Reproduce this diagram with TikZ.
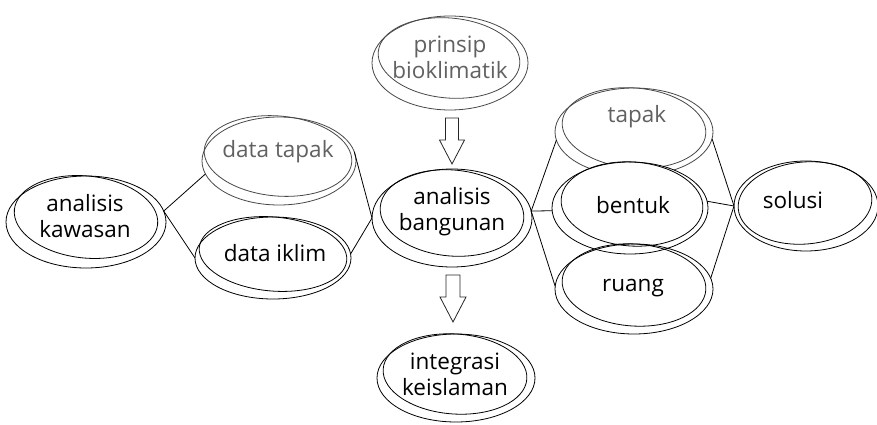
\documentclass[tikz,border=0pt]{standalone}
\usepackage{fontspec}
\setmainfont{Open Sans}
\usetikzlibrary{calc,shapes.geometric}

\begin{document}
\begin{tikzpicture}[x=1pt,y=1pt,
  bub/.style={ellipse, draw=black, fill=white, line width=0.8pt, inner sep=0pt, outer sep=0pt},
  bubline/.style={draw=black, line width=0.8pt},
  soft/.style={draw=black!72},
  txt/.style={align=center, inner sep=0pt, font=\fontsize{22.5}{26}\selectfont, text=black},
  softtxt/.style={txt, text=black!62},
  link/.style={draw=black, line width=0.8pt},
  blockarrow/.style={draw=black!85, line width=0.8pt, fill=white, line join=miter}
]
\useasboundingbox[fill=white] (0,0) rectangle (877,424);

% analisis kawasan
\node[bub, minimum width=160, minimum height=92,
  label={[txt, shift={(-1,6)}]center:{analisis\\kawasan}}] (kaw) at (86,202) {};
\draw[bubline, rotate around={-6:(86,207)}] (86,207) ellipse [x radius=72, y radius=41];

% data tapak
\node[bub, soft, minimum width=154, minimum height=88,
  label={[softtxt, shift={(-1,9)}]center:{data tapak}}] (dtp) at (279,263) {};
\draw[bubline, soft, rotate around={-5:(278,268)}] (278,268) ellipse [x radius=74, y radius=40];

% data iklim
\node[bub, minimum width=156, minimum height=82,
  label={[txt, shift={(2,5)}]center:{data iklim}}] (dik) at (273,166) {};
\draw[bubline, rotate around={-5:(273,170)}] (273,170) ellipse [x radius=74, y radius=37];

% prinsip bioklimatik
\node[bub, soft, minimum width=156, minimum height=94,
  label={[softtxt, shift={(0,6)}]center:{prinsip\\bioklimatik}}] (pri) at (450,361) {};
\draw[bubline, soft, rotate around={-5:(449,366)}] (449,366) ellipse [x radius=71, y radius=40];

% analisis bangunan
\node[bub, minimum width=160, minimum height=98,
  label={[txt, shift={(0,6)}]center:{analisis\\bangunan}}] (ban) at (452,206) {};
\draw[bubline, rotate around={-5:(452,211)}] (452,211) ellipse [x radius=72, y radius=43];

% integrasi keislaman
\node[bub, minimum width=158, minimum height=88,
  label={[txt, shift={(-1,4)}]center:{integrasi\\keislaman}}] (isl) at (456,46) {};
\draw[bubline, rotate around={-4:(455,50)}] (455,50) ellipse [x radius=72, y radius=40];

% tapak
\node[bub, soft, minimum width=158, minimum height=88,
  label={[softtxt, shift={(3,15)}]center:{tapak}}] (tpk) at (634,292) {};
\draw[bubline, soft, rotate around={-5:(634,296)}] (634,296) ellipse [x radius=72, y radius=40];

% bentuk
\node[bub, minimum width=156, minimum height=92,
  label={[txt, shift={(3,3)}]center:{bentuk}}] (ben) at (630,216) {};
\draw[bubline, rotate around={-4:(632,220)}] (632,220) ellipse [x radius=71, y radius=42];

% ruang
\node[bub, fill=none, minimum width=158, minimum height=90,
  label={[txt, shift={(-1,1)}]center:{ruang}}] (rua) at (634,135) {};
\draw[bubline, rotate around={-4:(634,139)}] (634,139) ellipse [x radius=72, y radius=41];

% solusi
\node[bub, minimum width=144, minimum height=90,
  label={[txt, shift={(-13,6)}]center:{solusi}}] (sol) at (806,218) {};
\draw[bubline, rotate around={5:(805,221)}] (805,221) ellipse [x radius=67, y radius=41];

% connectors
\draw[link] (kaw.8) -- (dtp.190);
\draw[link] (kaw.8) -- (dik.west);
\draw[link] (dtp.7) -- (ban.west);
\draw[link] (dik.3) -- (ban.west);
\draw[link] (ban.5) -- (tpk.186);
\draw[link] (ban.5) -- (ben.182);
\draw[link] (ban.5) -- (rua.178);
\draw[link] (tpk.355) -- (sol.west);
\draw[link] (ben.5) -- (sol.west);
\draw[link] (rua.8) -- (sol.west);

% block arrows
\coordinate (a1) at ([xshift=2,yshift=-8]pri.south);
\draw[blockarrow] (a1) ++(-6.5,0) -- ++(13,0) -- ++(0,-22) -- ++(6,0)
  -- ++(-12.5,-24) -- ++(-12.5,24) -- ++(6,0) -- cycle;
\coordinate (a2) at ([xshift=1,yshift=-8]ban.south);
\draw[blockarrow] (a2) ++(-7,0) -- ++(14,0) -- ++(0,-22) -- ++(6,0)
  -- ++(-13,-25) -- ++(-13,25) -- ++(6,0) -- cycle;
\end{tikzpicture}
\end{document}
